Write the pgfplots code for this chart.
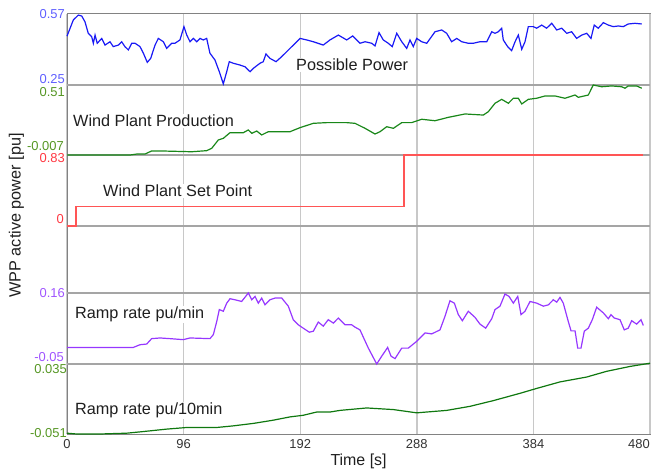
\documentclass[border=0pt]{standalone}
\usepackage{pgfplots}
\pgfplotsset{compat=1.18}
\usepackage{fontspec}
\setmainfont{Liberation Sans}

\definecolor{ppBlue}{RGB}{25,25,245}
\definecolor{ppBlueLbl}{RGB}{95,95,255}
\definecolor{prodGreen}{RGB}{25,135,25}
\definecolor{prodGreenLbl}{RGB}{85,150,35}
\definecolor{spRed}{RGB}{255,85,85}
\definecolor{spRedLbl}{RGB}{255,55,65}
\definecolor{rrPurple}{RGB}{150,55,255}
\definecolor{rrPurpleLbl}{RGB}{160,85,255}
\definecolor{rtGreen}{RGB}{15,120,15}
\definecolor{gridGray}{RGB}{200,200,200}
\definecolor{sepGray}{RGB}{165,165,165}
\definecolor{frameGray}{RGB}{130,130,130}

\newcommand{\ticklbl}{\fontsize{13}{15}\selectfont}
\newcommand{\titlefont}{\fontsize{16.3}{19}\selectfont}

\pgfplotsset{
  strip/.style={anchor=south west, scale only axis, width=583bp,
    xmin=0, xmax=480, hide axis, clip=false},
}
\tikzset{
  vlbl/.style={anchor=east, inner sep=0pt, font=\ticklbl},
  stitle/.style={anchor=base west, font=\titlefont, text=black!88,
    fill=white, inner sep=1bp},
}

\begin{document}
\begin{tikzpicture}
\path[use as bounding box] (0,0) rectangle (651bp,470bp);

% frame, time grid and strip separators
\begin{axis}[
  at={(67bp,36bp)}, anchor=south west,
  scale only axis, width=583bp, height=420bp,
  xmin=0, xmax=480, ymin=0, ymax=420,
  xtick={0,96,192,288,384},
  extra x ticks={480},
  extra x tick labels={480},
  extra x tick style={xticklabel style={anchor=north east, xshift=0bp}},
  ytick=\empty,
  extra y ticks={70,141,208,279,349},
  extra y tick labels={},
  extra y tick style={grid=major, major grid style={draw=sepGray, line width=1.1bp}},
  xmajorgrids,
  major grid style={draw=gridGray, line width=1.4bp},
  major tick length=0pt,
  axis line style={draw=frameGray, line width=1bp},
  tick label style={font=\ticklbl, text=black!80},
  xticklabel style={anchor=north, inner sep=0pt, yshift=-5.5bp},
  /pgf/number format/assume math mode=true,
]
\end{axis}

% Possible Power
\begin{axis}[strip, at={(67bp,385bp)}, height=71bp, ymin=0.25, ymax=0.57]
\addplot[ppBlue, line width=1.2bp] coordinates {
(0,0.470) (5.2,0.543) (9.3,0.565) (12.1,0.561) (14.8,0.535) (17.5,0.483)
(20.3,0.468) (21.7,0.438) (23.1,0.475) (24.9,0.438) (28.6,0.460) (31.3,0.430)
(35.4,0.445) (38.1,0.423) (42.3,0.430) (45.0,0.445) (47.7,0.423) (50.5,0.408)
(53.3,0.438) (56.0,0.438) (60.1,0.423) (62.9,0.393) (66.1,0.352) (68.9,0.370)
(72.5,0.430) (75.2,0.460) (79.3,0.445) (82.1,0.415) (86.2,0.438) (88.9,0.438)
(93.0,0.453) (96.3,0.513) (98.6,0.475) (101.3,0.445) (104.0,0.460) (106.8,0.445)
(109.5,0.460) (112.2,0.453) (115.0,0.460) (117.7,0.393) (121.8,0.363) (125.4,0.310)
(128.7,0.255) (131.5,0.310) (133.6,0.355) (136.9,0.348) (142.4,0.340) (146.6,0.332)
(150.7,0.310) (153.4,0.325) (158.9,0.348) (161.6,0.355) (163.8,0.390) (167.1,0.370)
(172.1,0.355) (176.8,0.378) (183.6,0.415) (191.9,0.460) (197.4,0.453) (202.8,0.445)
(211.0,0.430) (216.5,0.453) (223.4,0.475) (230.3,0.453) (235.2,0.471) (241.2,0.438)
(245.4,0.445) (250.9,0.438) (253.6,0.426) (256.9,0.486) (260.4,0.453) (264.5,0.438)
(267.8,0.423) (271.5,0.483) (275.6,0.445) (279.7,0.415) (282.4,0.453) (285.1,0.423)
(287.9,0.460) (292.0,0.445) (296.2,0.438) (303.0,0.490) (308.5,0.498) (312.6,0.483)
(316.7,0.445) (320.9,0.460) (325.0,0.445) (330.4,0.438) (334.5,0.438) (340.0,0.445)
(345.6,0.445) (349.7,0.490) (352.4,0.483) (355.1,0.490) (357.9,0.506) (359.2,0.453)
(362.8,0.423) (366.1,0.405) (368.9,0.445) (371.6,0.475) (374.4,0.411) (377.1,0.445)
(379.8,0.513) (383.9,0.513) (386.7,0.506) (390.8,0.520) (394.9,0.506) (399.1,0.528)
(403.2,0.498) (407.3,0.506) (411.4,0.483) (415.5,0.490) (419.6,0.460) (423.8,0.475)
(427.9,0.483) (431.4,0.460) (434.1,0.520) (437.4,0.506) (441.6,0.531) (445.7,0.520)
(449.8,0.513) (453.9,0.516) (458.0,0.513) (462.1,0.525) (467.7,0.528) (473.2,0.525)
};
\node[vlbl, text=ppBlueLbl] at ([xshift=-2bp]rel axis cs:0,1) {0.57};
\node[vlbl, text=ppBlueLbl] at ([xshift=-2bp,yshift=6bp]rel axis cs:0,0) {0.25};
\end{axis}

% Wind Plant Production
\begin{axis}[strip, at={(67bp,315bp)}, height=70bp, ymin=-0.007, ymax=0.51]
\addplot[prodGreen, line width=1.2bp] coordinates {
(0,-0.007) (51.9,-0.007) (57.4,0.000) (64.2,0.000) (69.7,0.023) (76.6,0.023)
(102.7,0.017) (115.0,0.025) (119.1,0.042) (124.6,0.104) (128.7,0.116) (134.2,0.158)
(145.2,0.158) (149.3,0.178) (152.1,0.153) (156.2,0.170) (160.3,0.141) (165.7,0.165)
(183.6,0.165) (191.9,0.195) (202.8,0.227) (213.8,0.232) (230.3,0.232) (237.1,0.227)
(245.4,0.190) (253.6,0.148) (257.7,0.165) (263.2,0.202) (268.7,0.190) (275.6,0.232)
(283.8,0.232) (292.0,0.257) (303.0,0.246) (313.9,0.271) (327.7,0.296) (342.8,0.288)
(346.9,0.313) (352.4,0.375) (357.9,0.404) (363.4,0.375) (367.5,0.412) (371.6,0.412)
(374.4,0.370) (379.8,0.404) (386.7,0.412) (393.6,0.429) (401.8,0.429) (410.0,0.412)
(418.3,0.436) (421.0,0.419) (429.2,0.436) (433.3,0.510) (440.2,0.497) (448.5,0.503)
(456.7,0.497) (459.4,0.486) (462.1,0.503) (469.0,0.503) (473.2,0.486)
};
\node[vlbl, text=prodGreenLbl] at ([xshift=-2bp,yshift=-6.7bp]rel axis cs:0,1) {0.51};
\node[vlbl, text=prodGreenLbl] at ([xshift=-3bp,yshift=9bp]rel axis cs:0,0) {-0.007};
\end{axis}

% Wind Plant Set Point
\begin{axis}[strip, at={(67bp,244bp)}, height=71bp, ymin=0, ymax=0.83]
\addplot[spRed, line width=1.4bp] coordinates {
(0,0) (7.4,0) (7.4,0.226) (277.5,0.226) (277.5,0.83) (474.5,0.83)
};
\node[vlbl, text=spRedLbl] at ([xshift=-2bp,yshift=-3.3bp]rel axis cs:0,1) {0.83};
\node[vlbl, text=spRedLbl] at ([xshift=-3bp,yshift=7bp]rel axis cs:0,0) {0};
\end{axis}

% Ramp rate pu/min
\begin{axis}[strip, at={(67bp,106bp)}, height=71bp, ymin=-0.05, ymax=0.16]
\addplot[rrPurple, line width=1.2bp] coordinates {
(0,-0.001) (54.6,-0.001) (60.1,0.007) (65.6,0.009) (69.7,0.025) (76.6,0.027)
(84.8,0.025) (95.8,0.022) (101.3,0.027) (117.7,0.025) (120.5,0.037) (123.3,0.076)
(125.4,0.111) (128.7,0.106) (131.5,0.130) (134.2,0.143) (138.3,0.140) (143.8,0.135)
(149.3,0.160) (152.1,0.140) (154.8,0.150) (157.5,0.130) (160.3,0.145) (163.0,0.125)
(167.1,0.140) (171.3,0.145) (176.8,0.145) (182.2,0.121) (186.3,0.081) (190.4,0.066)
(194.5,0.056) (199.5,0.044) (202.8,0.047) (206.9,0.074) (211.0,0.062) (215.1,0.081)
(219.3,0.071) (223.4,0.086) (228.9,0.066) (234.4,0.066) (237.1,0.059) (241.2,0.051)
(248.1,-0.003) (255.0,-0.050) (259.1,-0.027) (264.0,-0.001) (266.8,-0.027) (270.1,-0.034)
(275.6,-0.003) (281.0,-0.003) (287.9,0.017) (294.8,0.042) (300.3,0.039) (307.1,0.051)
(311.2,0.091) (315.3,0.137) (318.9,0.130) (322.2,0.096) (325.5,0.078) (330.4,0.106)
(335.9,0.088) (340.0,0.068) (344.7,0.056) (349.7,0.084) (352.4,0.111) (356.5,0.121)
(360.6,0.157) (363.9,0.150) (367.5,0.130) (371.1,0.150) (373.8,0.096) (377.1,0.106)
(381.2,0.135) (386.7,0.130) (392.2,0.121) (396.3,0.125) (400.4,0.140) (403.2,0.133)
(405.9,0.147) (408.6,0.130) (412.7,0.076) (415.0,0.048) (418.3,0.048) (420.5,-0.003)
(423.2,-0.003) (425.9,0.047) (429.2,0.056) (432.5,0.081) (436.1,0.118) (441.6,0.101)
(445.7,0.084) (447.9,0.096) (450.6,0.086) (455.3,0.081) (458.8,0.051) (462.1,0.056)
(464.9,0.078) (469.0,0.068) (472.6,0.081) (474.5,0.064)
};
\node[vlbl, text=rrPurpleLbl] at ([xshift=-2bp]rel axis cs:0,1) {0.16};
\node[vlbl, text=rrPurpleLbl] at ([xshift=-3bp,yshift=6.7bp]rel axis cs:0,0) {-0.05};
\end{axis}

% Ramp rate pu/10min
\begin{axis}[strip, at={(67bp,36bp)}, height=70bp, ymin=-0.051, ymax=0.035]
\addplot[rtGreen, line width=1.2bp] coordinates {
(0,-0.050) (8.0,-0.051) (27.2,-0.051) (49.2,-0.050) (62.8,-0.048) (82.1,-0.045)
(98.6,-0.043) (123.3,-0.043) (136.9,-0.041) (153.4,-0.038) (169.9,-0.034) (183.6,-0.030)
(194.5,-0.028) (205.6,-0.024) (216.5,-0.024) (224.8,-0.022) (246.7,-0.019) (268.7,-0.021)
(287.9,-0.025) (312.6,-0.022) (331.8,-0.017) (351.0,-0.010) (373.0,-0.001) (386.7,0.005)
(405.9,0.013) (427.9,0.019) (444.3,0.026) (463.5,0.032) (480,0.036)
};
\node[vlbl, text=prodGreenLbl] at ([xshift=0bp,yshift=-5.3bp]rel axis cs:0,1) {0.035};
\node[vlbl, text=prodGreenLbl] at ([xshift=0bp,yshift=1.3bp]rel axis cs:0,0) {-0.051};
\end{axis}

% strip titles
\node[stitle] at (295bp,399bp) {Possible Power};
\node[stitle] at (72bp,343bp) {Wind Plant Production};
\node[stitle] at (102bp,273.4bp) {Wind Plant Set Point};
\node[stitle] at (74bp,151.2bp) {Ramp rate pu/min};
\node[stitle] at (74bp,55.7bp) {Ramp rate pu/10min};

% axis titles
\node[anchor=base, rotate=90, font=\fontsize{16.3}{19}\selectfont, text=black!88]
  at (20.5bp,254.5bp) {WPP active power [pu]};
\node[anchor=base west, font=\fontsize{16}{19}\selectfont, text=black!88]
  at (327bp,4.5bp) {Time [s]};
\end{tikzpicture}
\end{document}
